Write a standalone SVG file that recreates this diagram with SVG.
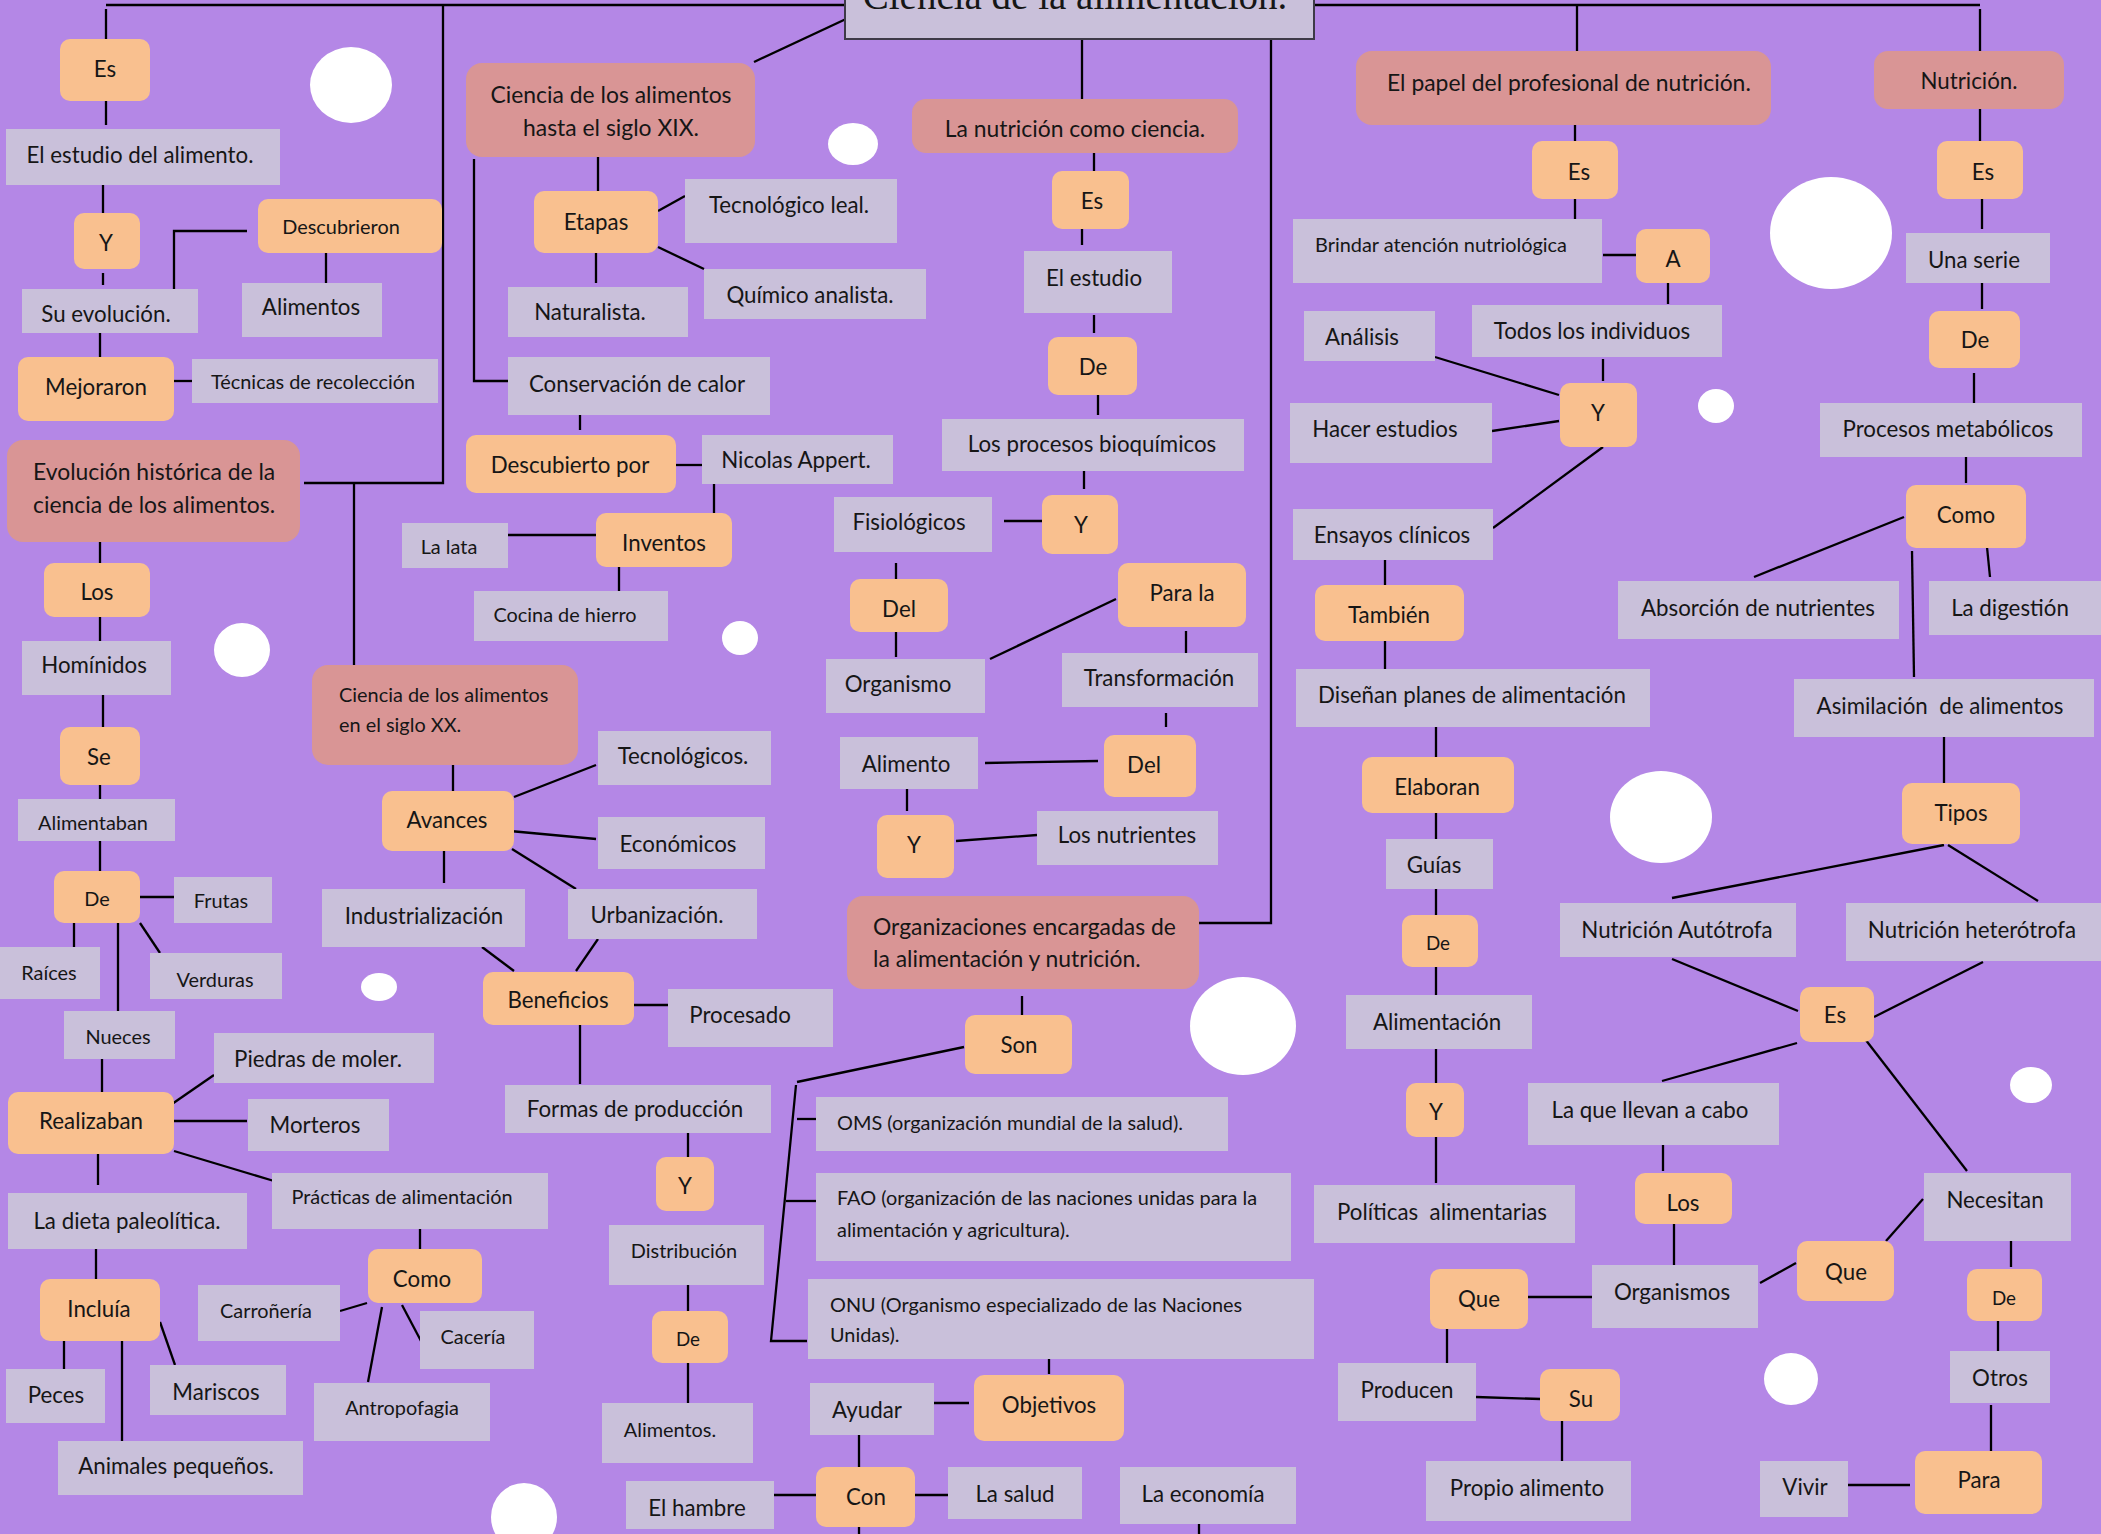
<svg xmlns="http://www.w3.org/2000/svg" width="2101" height="1534" viewBox="0 0 2101 1534">
<style>
text{font-family:Lato,"Open Sans","Liberation Sans",sans-serif;fill:#161616;text-anchor:middle;font-size:22.3px}
.l{text-anchor:start}
.b{font-size:19.9px}
.c{font-size:22.9px}
.d{font-size:18.8px}
.o{fill:#F9C08F}
.v{fill:#C9C0DA}
.p{fill:#D99595}
.k{fill:#fff}
#connectors line,#connectors polyline{stroke:#000;stroke-width:2.3;fill:none}
</style>
<rect x="0" y="0" width="2101" height="1534" fill="#B487E6"/>
<g id="dots">
<ellipse class="k" cx="351" cy="85" rx="41" ry="38"/>
<ellipse class="k" cx="853" cy="144" rx="25" ry="21"/>
<ellipse class="k" cx="242" cy="650" rx="28" ry="27"/>
<ellipse class="k" cx="740" cy="638" rx="18" ry="17"/>
<ellipse class="k" cx="379" cy="987" rx="18" ry="14"/>
<ellipse class="k" cx="1243" cy="1026" rx="53" ry="49"/>
<ellipse class="k" cx="1831" cy="233" rx="61" ry="56"/>
<ellipse class="k" cx="1716" cy="406" rx="18" ry="17"/>
<ellipse class="k" cx="1661" cy="817" rx="51" ry="46"/>
<ellipse class="k" cx="2031" cy="1085" rx="21" ry="18"/>
<ellipse class="k" cx="1791" cy="1379" rx="27" ry="26"/>
<ellipse class="k" cx="524" cy="1517" rx="33" ry="34"/>
</g>
<g id="connectors">
<line x1="106" y1="5" x2="845" y2="5"/>
<line x1="1314" y1="5" x2="1980" y2="5"/>
<line x1="106" y1="9" x2="106" y2="39"/>
<line x1="106" y1="101" x2="106" y2="125"/>
<line x1="103" y1="185" x2="103" y2="213"/>
<line x1="103" y1="273" x2="103" y2="285"/>
<polyline points="174,289 174,231 247,231"/>
<line x1="326" y1="253" x2="326" y2="283"/>
<line x1="100" y1="333" x2="100" y2="357"/>
<line x1="174" y1="381" x2="192" y2="381"/>
<polyline points="443,5 443,483 304,483"/>
<line x1="354" y1="483" x2="354" y2="665"/>
<line x1="100" y1="542" x2="100" y2="563"/>
<line x1="100" y1="617" x2="100" y2="641"/>
<line x1="103" y1="695" x2="103" y2="727"/>
<line x1="100" y1="785" x2="100" y2="799"/>
<line x1="100" y1="841" x2="100" y2="871"/>
<line x1="140" y1="897" x2="175" y2="897"/>
<line x1="74" y1="923" x2="74" y2="947"/>
<line x1="118" y1="923" x2="118" y2="1011"/>
<line x1="140" y1="923" x2="160" y2="953"/>
<line x1="102" y1="1059" x2="102" y2="1093"/>
<line x1="172" y1="1104" x2="214" y2="1075"/>
<line x1="172" y1="1121" x2="247" y2="1121"/>
<line x1="174" y1="1151" x2="274" y2="1181"/>
<line x1="98" y1="1154" x2="98" y2="1185"/>
<line x1="96" y1="1249" x2="96" y2="1279"/>
<line x1="420" y1="1229" x2="420" y2="1249"/>
<line x1="340" y1="1311" x2="367" y2="1303"/>
<line x1="402" y1="1305" x2="421" y2="1341"/>
<line x1="382" y1="1307" x2="368" y2="1382"/>
<line x1="64" y1="1341" x2="64" y2="1369"/>
<line x1="122" y1="1341" x2="122" y2="1441"/>
<line x1="160" y1="1322" x2="175" y2="1365"/>
<line x1="754" y1="62" x2="846" y2="19"/>
<polyline points="474,159 474,381 508,381"/>
<line x1="598" y1="157" x2="598" y2="191"/>
<line x1="658" y1="211" x2="685" y2="196"/>
<line x1="658" y1="247" x2="704" y2="269"/>
<line x1="596" y1="253" x2="596" y2="283"/>
<line x1="580" y1="415" x2="580" y2="430"/>
<line x1="676" y1="465" x2="702" y2="465"/>
<line x1="714" y1="484" x2="714" y2="517"/>
<line x1="508" y1="535" x2="596" y2="535"/>
<line x1="619" y1="567" x2="619" y2="591"/>
<line x1="453" y1="765" x2="453" y2="791"/>
<line x1="514" y1="797" x2="596" y2="765"/>
<line x1="510" y1="831" x2="596" y2="839"/>
<line x1="512" y1="849" x2="576" y2="889"/>
<line x1="444" y1="851" x2="444" y2="883"/>
<line x1="482" y1="947" x2="514" y2="971"/>
<line x1="598" y1="939" x2="576" y2="971"/>
<line x1="634" y1="1005" x2="668" y2="1005"/>
<line x1="580" y1="1025" x2="580" y2="1084"/>
<line x1="688" y1="1133" x2="688" y2="1157"/>
<line x1="688" y1="1285" x2="688" y2="1311"/>
<line x1="688" y1="1363" x2="688" y2="1403"/>
<line x1="1082" y1="39" x2="1082" y2="99"/>
<line x1="1094" y1="150" x2="1094" y2="179"/>
<line x1="1082" y1="229" x2="1082" y2="245"/>
<line x1="1094" y1="315" x2="1094" y2="333"/>
<line x1="1098" y1="393" x2="1098" y2="415"/>
<line x1="1084" y1="467" x2="1084" y2="489"/>
<line x1="1004" y1="521" x2="1042" y2="521"/>
<line x1="896" y1="563" x2="896" y2="587"/>
<line x1="896" y1="632" x2="896" y2="657"/>
<line x1="990" y1="659" x2="1116" y2="599"/>
<line x1="1186" y1="631" x2="1186" y2="653"/>
<line x1="1166" y1="713" x2="1166" y2="727"/>
<line x1="985" y1="763" x2="1098" y2="761"/>
<line x1="907" y1="789" x2="907" y2="811"/>
<line x1="956" y1="841" x2="1037" y2="835"/>
<polyline points="1199,923 1271,923 1271,39"/>
<line x1="1022" y1="996" x2="1022" y2="1018"/>
<line x1="964" y1="1047" x2="797" y2="1082"/>
<polyline points="796,1085 771,1341 807,1341"/>
<line x1="797" y1="1119" x2="816" y2="1119"/>
<line x1="786" y1="1201" x2="816" y2="1201"/>
<line x1="1049" y1="1359" x2="1049" y2="1374"/>
<line x1="934" y1="1403" x2="969" y2="1403"/>
<line x1="859" y1="1435" x2="859" y2="1467"/>
<line x1="774" y1="1495" x2="816" y2="1495"/>
<line x1="915" y1="1495" x2="948" y2="1495"/>
<line x1="859" y1="1527" x2="859" y2="1534"/>
<line x1="1199" y1="1524" x2="1199" y2="1534"/>
<line x1="1577" y1="5" x2="1577" y2="51"/>
<line x1="1575" y1="125" x2="1575" y2="141"/>
<line x1="1575" y1="199" x2="1575" y2="219"/>
<line x1="1603" y1="255" x2="1636" y2="255"/>
<line x1="1668" y1="283" x2="1668" y2="304"/>
<line x1="1603" y1="359" x2="1603" y2="381"/>
<line x1="1435" y1="357" x2="1559" y2="395"/>
<line x1="1492" y1="431" x2="1559" y2="421"/>
<line x1="1603" y1="447" x2="1493" y2="528"/>
<line x1="1385" y1="560" x2="1385" y2="585"/>
<line x1="1385" y1="641" x2="1385" y2="671"/>
<line x1="1436" y1="727" x2="1436" y2="757"/>
<line x1="1436" y1="813" x2="1436" y2="839"/>
<line x1="1436" y1="889" x2="1436" y2="915"/>
<line x1="1436" y1="967" x2="1436" y2="995"/>
<line x1="1436" y1="1049" x2="1436" y2="1083"/>
<line x1="1436" y1="1137" x2="1436" y2="1183"/>
<line x1="1528" y1="1297" x2="1592" y2="1297"/>
<line x1="1447" y1="1329" x2="1447" y2="1363"/>
<line x1="1476" y1="1397" x2="1541" y2="1399"/>
<line x1="1562" y1="1421" x2="1562" y2="1461"/>
<line x1="1980" y1="9" x2="1980" y2="51"/>
<line x1="1980" y1="109" x2="1980" y2="141"/>
<line x1="1982" y1="199" x2="1982" y2="229"/>
<line x1="1982" y1="283" x2="1982" y2="309"/>
<line x1="1974" y1="373" x2="1974" y2="403"/>
<line x1="1966" y1="455" x2="1966" y2="483"/>
<line x1="1904" y1="517" x2="1754" y2="577"/>
<line x1="1987" y1="547" x2="1990" y2="577"/>
<line x1="1912" y1="551" x2="1914" y2="677"/>
<line x1="1944" y1="737" x2="1944" y2="783"/>
<line x1="1944" y1="845" x2="1672" y2="898"/>
<line x1="1948" y1="845" x2="2038" y2="901"/>
<line x1="1672" y1="959" x2="1798" y2="1011"/>
<line x1="1983" y1="962" x2="1874" y2="1017"/>
<line x1="1797" y1="1043" x2="1662" y2="1081"/>
<line x1="1663" y1="1145" x2="1663" y2="1171"/>
<line x1="1674" y1="1224" x2="1674" y2="1265"/>
<line x1="1760" y1="1283" x2="1796" y2="1263"/>
<line x1="1886" y1="1241" x2="1923" y2="1199"/>
<line x1="1865" y1="1039" x2="1967" y2="1171"/>
<line x1="2011" y1="1241" x2="2011" y2="1267"/>
<line x1="1998" y1="1321" x2="1998" y2="1351"/>
<line x1="1991" y1="1405" x2="1991" y2="1454"/>
<line x1="1843" y1="1485" x2="1910" y2="1485"/>
</g>
<g id="n-title"><rect x="845" y="-4" width="469" height="43" fill="#C9C0DA" stroke="#3E3A48" stroke-width="2"/><text x="1075" y="9" style="font-family:'Liberation Serif',serif;font-size:39px">Ciencia de la alimentación.</text></g>
<g id="n-es1"><rect class="o" x="60" y="39" width="90" height="62" rx="10"/><text x="105" y="77">Es</text></g>
<g id="n-estudio"><rect class="v" x="6" y="129" width="274" height="56"/><text x="140" y="163">El estudio del alimento.</text></g>
<g id="n-y1"><rect class="o" x="74" y="213" width="66" height="56" rx="10"/><text x="106" y="251">Y</text></g>
<g id="n-suevo"><rect class="v" x="22" y="289" width="176" height="44"/><text x="106" y="322">Su evolución.</text></g>
<g id="n-descub"><rect class="o" x="258" y="199" width="184" height="54" rx="10"/><text class="b" x="341" y="234">Descubrieron</text></g>
<g id="n-alim"><rect class="v" x="242" y="283" width="140" height="54"/><text x="311" y="315">Alimentos</text></g>
<g id="n-mejor"><rect class="o" x="18" y="357" width="156" height="64" rx="10"/><text x="96" y="395">Mejoraron</text></g>
<g id="n-tecnic"><rect class="v" x="192" y="359" width="246" height="44"/><text class="b" x="313" y="389">Técnicas de recolección</text></g>
<g id="n-evol"><rect class="p" x="7" y="440" width="293" height="102" rx="16"/><text class="c l" x="33" y="480">Evolución histórica de la</text><text class="c l" x="33" y="513">ciencia de los alimentos.</text></g>
<g id="n-los1"><rect class="o" x="44" y="563" width="106" height="54" rx="10"/><text x="97" y="600">Los</text></g>
<g id="n-homin"><rect class="v" x="22" y="641" width="149" height="54"/><text x="94" y="673">Homínidos</text></g>
<g id="n-se"><rect class="o" x="60" y="727" width="80" height="58" rx="10"/><text x="99" y="765">Se</text></g>
<g id="n-alimtab"><rect class="v" x="18" y="799" width="157" height="42"/><text class="b" x="93" y="830">Alimentaban</text></g>
<g id="n-de1"><rect class="o" x="54" y="871" width="86" height="52" rx="10"/><text class="b" x="97" y="906">De</text></g>
<g id="n-frutas"><rect class="v" x="174" y="877" width="98" height="46"/><text class="b" x="221" y="908">Frutas</text></g>
<g id="n-raices"><rect class="v" x="0" y="947" width="100" height="52"/><text class="b" x="49" y="980">Raíces</text></g>
<g id="n-verd"><rect class="v" x="150" y="953" width="132" height="46"/><text class="b" x="215" y="987">Verduras</text></g>
<g id="n-nueces"><rect class="v" x="64" y="1011" width="111" height="48"/><text class="b" x="118" y="1044">Nueces</text></g>
<g id="n-realiz"><rect class="o" x="8" y="1092" width="166" height="62" rx="10"/><text x="91" y="1129">Realizaban</text></g>
<g id="n-piedras"><rect class="v" x="214" y="1033" width="220" height="50"/><text x="318" y="1067">Piedras de moler.</text></g>
<g id="n-morteros"><rect class="v" x="248" y="1099" width="141" height="52"/><text x="315" y="1133">Morteros</text></g>
<g id="n-practicas"><rect class="v" x="272" y="1173" width="276" height="56"/><text class="b" x="402" y="1204">Prácticas de alimentación</text></g>
<g id="n-dieta"><rect class="v" x="8" y="1193" width="239" height="56"/><text x="127" y="1229">La dieta paleolítica.</text></g>
<g id="n-como1"><rect class="o" x="368" y="1249" width="114" height="54" rx="10"/><text x="422" y="1287">Como</text></g>
<g id="n-carro"><rect class="v" x="198" y="1285" width="142" height="56"/><text class="b" x="266" y="1318">Carroñería</text></g>
<g id="n-caceria"><rect class="v" x="420" y="1311" width="114" height="58"/><text class="b" x="473" y="1344">Cacería</text></g>
<g id="n-antrop"><rect class="v" x="314" y="1383" width="176" height="58"/><text class="b" x="402" y="1415">Antropofagia</text></g>
<g id="n-incluia"><rect class="o" x="40" y="1279" width="120" height="62" rx="10"/><text x="99" y="1317">Incluía</text></g>
<g id="n-peces"><rect class="v" x="6" y="1369" width="99" height="54"/><text x="56" y="1403">Peces</text></g>
<g id="n-mariscos"><rect class="v" x="150" y="1365" width="136" height="50"/><text x="216" y="1400">Mariscos</text></g>
<g id="n-animales"><rect class="v" x="58" y="1441" width="245" height="54"/><text x="176" y="1474">Animales pequeños.</text></g>
<g id="n-xix"><rect class="p" x="466" y="63" width="289" height="94" rx="16"/><text class="c" x="611" y="103">Ciencia de los alimentos</text><text class="c" x="611" y="136">hasta el siglo XIX.</text></g>
<g id="n-etapas"><rect class="o" x="534" y="191" width="124" height="62" rx="10"/><text x="596" y="230">Etapas</text></g>
<g id="n-tecleal"><rect class="v" x="685" y="179" width="212" height="64"/><text x="789" y="213">Tecnológico leal.</text></g>
<g id="n-quimico"><rect class="v" x="704" y="269" width="222" height="50"/><text x="810" y="303">Químico analista.</text></g>
<g id="n-natural"><rect class="v" x="508" y="287" width="180" height="50"/><text x="590" y="320">Naturalista.</text></g>
<g id="n-conserv"><rect class="v" x="508" y="357" width="262" height="58"/><text x="637" y="392">Conservación de calor</text></g>
<g id="n-descpor"><rect class="o" x="466" y="435" width="210" height="58" rx="10"/><text x="570" y="473">Descubierto por</text></g>
<g id="n-nicolas"><rect class="v" x="702" y="435" width="191" height="49"/><text x="796" y="468">Nicolas Appert.</text></g>
<g id="n-inventos"><rect class="o" x="596" y="513" width="136" height="54" rx="10"/><text x="664" y="551">Inventos</text></g>
<g id="n-lalata"><rect class="v" x="402" y="523" width="106" height="45"/><text class="b" x="449" y="554">La lata</text></g>
<g id="n-cocina"><rect class="v" x="474" y="591" width="194" height="50"/><text class="b" x="565" y="622">Cocina de hierro</text></g>
<g id="n-xx"><rect class="p" x="312" y="665" width="266" height="100" rx="16"/><text class="b l" x="339" y="702">Ciencia de los alimentos</text><text class="b l" x="339" y="732">en el siglo XX.</text></g>
<g id="n-avances"><rect class="o" x="382" y="791" width="132" height="60" rx="10"/><text x="447" y="828">Avances</text></g>
<g id="n-tecnos"><rect class="v" x="598" y="731" width="173" height="54"/><text x="683" y="764">Tecnológicos.</text></g>
<g id="n-econ"><rect class="v" x="598" y="817" width="167" height="52"/><text x="678" y="852">Económicos</text></g>
<g id="n-indust"><rect class="v" x="322" y="889" width="203" height="58"/><text x="424" y="924">Industrialización</text></g>
<g id="n-urban"><rect class="v" x="568" y="889" width="189" height="50"/><text x="657" y="923">Urbanización.</text></g>
<g id="n-benef"><rect class="o" x="483" y="972" width="151" height="53" rx="10"/><text x="558" y="1008">Beneficios</text></g>
<g id="n-procesado"><rect class="v" x="668" y="989" width="165" height="58"/><text x="740" y="1023">Procesado</text></g>
<g id="n-formas"><rect class="v" x="505" y="1085" width="266" height="48"/><text x="635" y="1117">Formas de producción</text></g>
<g id="n-y2"><rect class="o" x="656" y="1157" width="58" height="54" rx="10"/><text x="685" y="1194">Y</text></g>
<g id="n-distrib"><rect class="v" x="609" y="1225" width="155" height="60"/><text class="b" x="684" y="1258">Distribución</text></g>
<g id="n-de2"><rect class="o" x="652" y="1311" width="76" height="52" rx="10"/><text class="d" x="688" y="1346">De</text></g>
<g id="n-alimentos2"><rect class="v" x="602" y="1403" width="151" height="60"/><text class="b" x="670" y="1437">Alimentos.</text></g>
<g id="n-hambre"><rect class="v" x="626" y="1481" width="148" height="48"/><text x="697" y="1516">El hambre</text></g>
<g id="n-nutcien"><rect class="p" x="912" y="99" width="326" height="54" rx="14"/><text class="c" x="1075" y="137">La nutrición como ciencia.</text></g>
<g id="n-es3"><rect class="o" x="1052" y="171" width="77" height="58" rx="10"/><text x="1092" y="209">Es</text></g>
<g id="n-elestudio"><rect class="v" x="1024" y="251" width="148" height="62"/><text x="1094" y="286">El estudio</text></g>
<g id="n-de3"><rect class="o" x="1048" y="337" width="89" height="58" rx="10"/><text x="1093" y="375">De</text></g>
<g id="n-procesos"><rect class="v" x="942" y="419" width="302" height="52"/><text x="1092" y="452">Los procesos bioquímicos</text></g>
<g id="n-y3"><rect class="o" x="1042" y="495" width="76" height="59" rx="10"/><text x="1081" y="533">Y</text></g>
<g id="n-fisio"><rect class="v" x="834" y="497" width="158" height="55"/><text x="909" y="530">Fisiológicos</text></g>
<g id="n-del1"><rect class="o" x="850" y="579" width="98" height="53" rx="10"/><text x="899" y="617">Del</text></g>
<g id="n-organismo"><rect class="v" x="826" y="659" width="159" height="54"/><text x="898" y="692">Organismo</text></g>
<g id="n-parala"><rect class="o" x="1118" y="563" width="128" height="64" rx="10"/><text x="1182" y="601">Para la</text></g>
<g id="n-transf"><rect class="v" x="1062" y="653" width="196" height="54"/><text x="1159" y="686">Transformación</text></g>
<g id="n-del2"><rect class="o" x="1104" y="735" width="92" height="62" rx="10"/><text x="1144" y="773">Del</text></g>
<g id="n-alimento"><rect class="v" x="840" y="737" width="138" height="52"/><text x="906" y="772">Alimento</text></g>
<g id="n-y4"><rect class="o" x="877" y="815" width="77" height="63" rx="10"/><text x="914" y="853">Y</text></g>
<g id="n-nutrientes"><rect class="v" x="1037" y="811" width="181" height="54"/><text x="1127" y="843">Los nutrientes</text></g>
<g id="n-orgs"><rect class="p" x="847" y="896" width="352" height="93" rx="16"/><text class="c l" x="873" y="935">Organizaciones encargadas de</text><text class="c l" x="873" y="967">la alimentación y nutrición.</text></g>
<g id="n-son"><rect class="o" x="965" y="1015" width="107" height="59" rx="10"/><text x="1019" y="1053">Son</text></g>
<g id="n-oms"><rect class="v" x="816" y="1097" width="412" height="54"/><text class="b l" x="837" y="1130">OMS (organización mundial de la salud).</text></g>
<g id="n-fao"><rect class="v" x="816" y="1173" width="475" height="88"/><text class="b l" x="837" y="1205">FAO (organización de las naciones unidas para la</text><text class="b l" x="837" y="1237">alimentación y agricultura).</text></g>
<g id="n-onu"><rect class="v" x="808" y="1279" width="506" height="80"/><text class="b l" x="830" y="1312">ONU (Organismo especializado de las Naciones</text><text class="b l" x="830" y="1342">Unidas).</text></g>
<g id="n-objetivos"><rect class="o" x="974" y="1375" width="150" height="66" rx="10"/><text x="1049" y="1413">Objetivos</text></g>
<g id="n-ayudar"><rect class="v" x="810" y="1383" width="124" height="52"/><text x="867" y="1418">Ayudar</text></g>
<g id="n-con"><rect class="o" x="816" y="1467" width="99" height="60" rx="10"/><text x="866" y="1505">Con</text></g>
<g id="n-salud"><rect class="v" x="948" y="1467" width="134" height="52"/><text x="1015" y="1502">La salud</text></g>
<g id="n-economia"><rect class="v" x="1120" y="1467" width="176" height="57"/><text x="1203" y="1502">La economía</text></g>
<g id="n-papel"><rect class="p" x="1356" y="51" width="415" height="74" rx="16"/><text class="c l" x="1387" y="91">El papel del profesional de nutrición.</text></g>
<g id="n-es4"><rect class="o" x="1532" y="141" width="86" height="58" rx="10"/><text x="1579" y="180">Es</text></g>
<g id="n-brindar"><rect class="v" x="1293" y="219" width="309" height="64"/><text class="b l" x="1315" y="252">Brindar atención nutriológica</text></g>
<g id="n-a"><rect class="o" x="1636" y="229" width="74" height="54" rx="10"/><text x="1673" y="267">A</text></g>
<g id="n-todos"><rect class="v" x="1472" y="305" width="250" height="52"/><text x="1592" y="339">Todos los individuos</text></g>
<g id="n-analisis"><rect class="v" x="1304" y="311" width="131" height="50"/><text x="1362" y="345">Análisis</text></g>
<g id="n-hacer"><rect class="v" x="1290" y="403" width="202" height="60"/><text x="1385" y="437">Hacer estudios</text></g>
<g id="n-y5"><rect class="o" x="1560" y="383" width="77" height="64" rx="10"/><text x="1598" y="421">Y</text></g>
<g id="n-ensayos"><rect class="v" x="1293" y="509" width="200" height="51"/><text x="1392" y="543">Ensayos clínicos</text></g>
<g id="n-tambien"><rect class="o" x="1315" y="585" width="149" height="56" rx="10"/><text x="1389" y="623">También</text></g>
<g id="n-disenan"><rect class="v" x="1296" y="669" width="354" height="58"/><text x="1472" y="703">Diseñan planes de alimentación</text></g>
<g id="n-elaboran"><rect class="o" x="1362" y="757" width="152" height="56" rx="10"/><text x="1437" y="795">Elaboran</text></g>
<g id="n-guias"><rect class="v" x="1386" y="839" width="107" height="50"/><text x="1434" y="873">Guías</text></g>
<g id="n-de4"><rect class="o" x="1402" y="915" width="76" height="52" rx="10"/><text class="d" x="1438" y="950">De</text></g>
<g id="n-alimentacion"><rect class="v" x="1346" y="995" width="186" height="54"/><text x="1437" y="1030">Alimentación</text></g>
<g id="n-y6"><rect class="o" x="1406" y="1083" width="58" height="54" rx="10"/><text x="1436" y="1120">Y</text></g>
<g id="n-politicas"><rect class="v" x="1314" y="1185" width="261" height="58"/><text x="1442" y="1220" style="white-space:pre">Políticas  alimentarias</text></g>
<g id="n-que1"><rect class="o" x="1430" y="1269" width="98" height="60" rx="10"/><text x="1479" y="1307">Que</text></g>
<g id="n-producen"><rect class="v" x="1338" y="1363" width="138" height="58"/><text x="1407" y="1398">Producen</text></g>
<g id="n-su"><rect class="o" x="1540" y="1369" width="80" height="52" rx="10"/><text x="1581" y="1407">Su</text></g>
<g id="n-propio"><rect class="v" x="1426" y="1461" width="205" height="60"/><text x="1527" y="1496">Propio alimento</text></g>
<g id="n-nutric"><rect class="p" x="1874" y="51" width="190" height="58" rx="14"/><text x="1969" y="89">Nutrición.</text></g>
<g id="n-es5"><rect class="o" x="1937" y="141" width="86" height="58" rx="10"/><text x="1983" y="180">Es</text></g>
<g id="n-unaserie"><rect class="v" x="1906" y="233" width="144" height="50"/><text x="1974" y="268">Una serie</text></g>
<g id="n-de5"><rect class="o" x="1929" y="311" width="91" height="57" rx="10"/><text x="1975" y="348">De</text></g>
<g id="n-procmet"><rect class="v" x="1820" y="403" width="262" height="54"/><text x="1948" y="437">Procesos metabólicos</text></g>
<g id="n-como2"><rect class="o" x="1906" y="485" width="120" height="63" rx="10"/><text x="1966" y="523">Como</text></g>
<g id="n-absorcion"><rect class="v" x="1618" y="581" width="281" height="58"/><text x="1758" y="616">Absorción de nutrientes</text></g>
<g id="n-digestion"><rect class="v" x="1929" y="581" width="172" height="54"/><text x="2010" y="616">La digestión</text></g>
<g id="n-asimil"><rect class="v" x="1794" y="679" width="300" height="58"/><text x="1940" y="714" style="white-space:pre">Asimilación  de alimentos</text></g>
<g id="n-tipos"><rect class="o" x="1902" y="783" width="118" height="61" rx="10"/><text x="1961" y="821">Tipos</text></g>
<g id="n-autotrofa"><rect class="v" x="1560" y="903" width="236" height="54"/><text x="1677" y="938">Nutrición Autótrofa</text></g>
<g id="n-hetero"><rect class="v" x="1846" y="903" width="255" height="58"/><text x="1972" y="938">Nutrición heterótrofa</text></g>
<g id="n-es6"><rect class="o" x="1800" y="987" width="74" height="55" rx="10"/><text x="1835" y="1023">Es</text></g>
<g id="n-quellevan"><rect class="v" x="1528" y="1083" width="251" height="62"/><text x="1650" y="1118">La que llevan a cabo</text></g>
<g id="n-los2"><rect class="o" x="1635" y="1173" width="97" height="51" rx="10"/><text x="1683" y="1211">Los</text></g>
<g id="n-organismos"><rect class="v" x="1592" y="1265" width="166" height="63"/><text x="1672" y="1300">Organismos</text></g>
<g id="n-que2"><rect class="o" x="1797" y="1241" width="97" height="60" rx="10"/><text x="1846" y="1280">Que</text></g>
<g id="n-necesitan"><rect class="v" x="1924" y="1173" width="147" height="68"/><text x="1995" y="1208">Necesitan</text></g>
<g id="n-de6"><rect class="o" x="1967" y="1269" width="75" height="52" rx="10"/><text class="d" x="2004" y="1305">De</text></g>
<g id="n-otros"><rect class="v" x="1950" y="1351" width="100" height="52"/><text x="2000" y="1386">Otros</text></g>
<g id="n-para"><rect class="o" x="1915" y="1451" width="127" height="63" rx="10"/><text x="1979" y="1488">Para</text></g>
<g id="n-vivir"><rect class="v" x="1760" y="1461" width="88" height="56"/><text x="1805" y="1495">Vivir</text></g>
</svg>
